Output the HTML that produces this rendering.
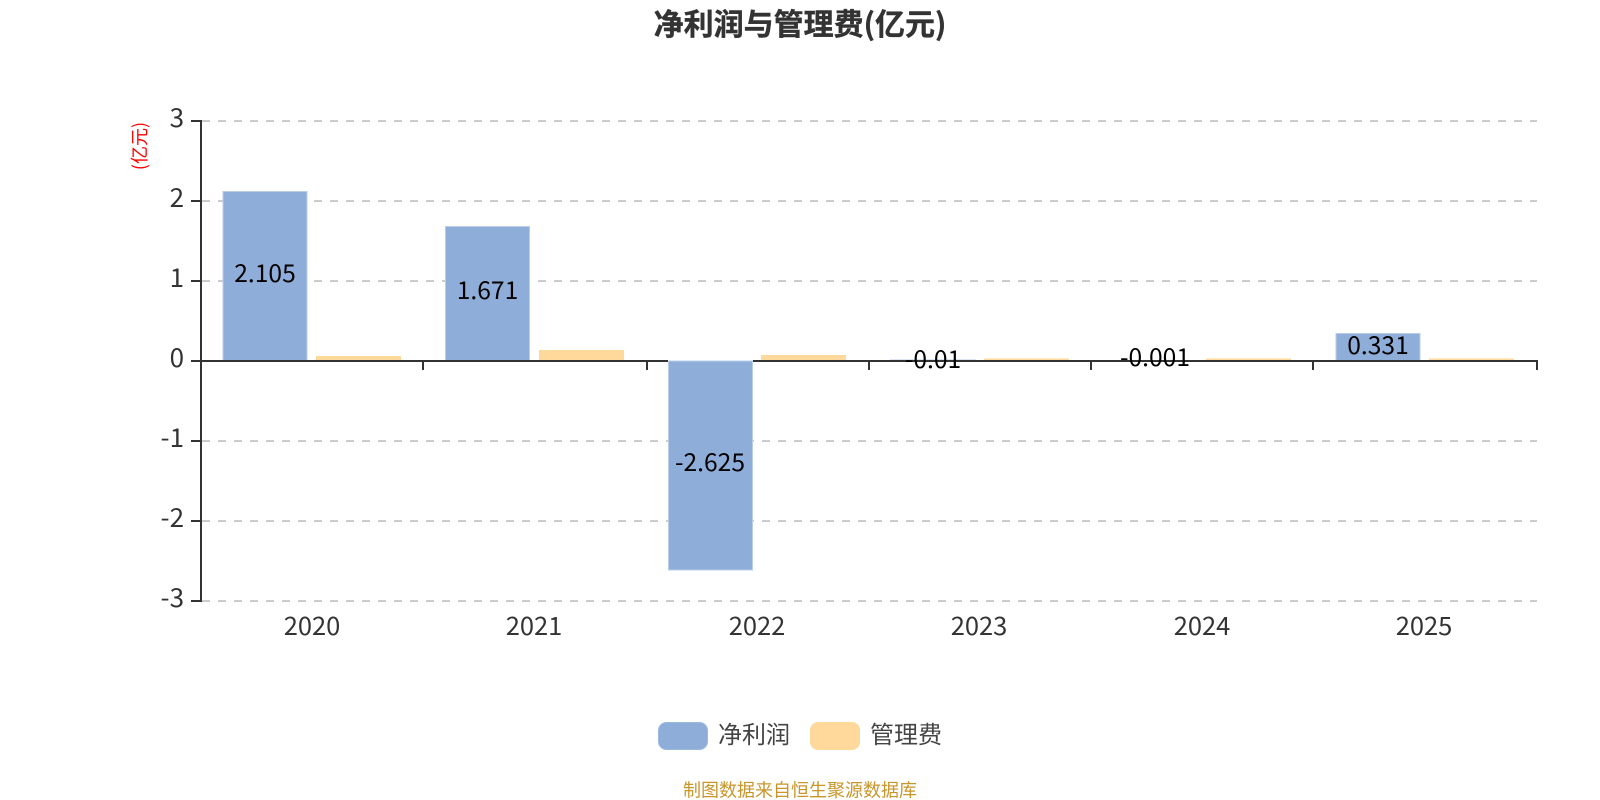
<!DOCTYPE html>
<html><head><meta charset="utf-8"><style>
html,body{margin:0;padding:0;background:#fff}
svg{display:block}
text{font-family:"Liberation Sans","Noto Sans CJK SC",sans-serif}
.n{font-family:"Noto Sans CJK SC",sans-serif}
</style></head><body>
<svg width="1600" height="800" viewBox="0 0 1600 800" xmlns="http://www.w3.org/2000/svg">
<rect width="1600" height="800" fill="#fff"/>
<text x="800" y="35" text-anchor="middle" font-size="30" font-weight="bold" fill="#333" stroke="#333" stroke-width="0.4" class="n">净利润与管理费(亿元)</text>
<g stroke="#ccc" stroke-width="2" stroke-dasharray="8 8">
<line x1="202" y1="121" x2="1537" y2="121"/>
<line x1="202" y1="201" x2="1537" y2="201"/>
<line x1="202" y1="281" x2="1537" y2="281"/>
<line x1="202" y1="441" x2="1537" y2="441"/>
<line x1="202" y1="521" x2="1537" y2="521"/>
<line x1="202" y1="601" x2="1537" y2="601"/>
</g>
<g fill="#8eadd9" stroke="#b9cde9" stroke-width="1">
<rect x="223" y="191.5" width="84" height="169"/>
<rect x="445.5" y="226.5" width="84" height="134"/>
<rect x="668.5" y="361" width="84" height="209"/>
<rect x="890.5" y="360" width="85" height="1.5"/>
<rect x="1336" y="333.5" width="84" height="27"/>
</g>
<g fill="#ffd89b">
<rect x="316" y="356" width="85" height="4.5"/>
<rect x="539" y="350" width="85" height="10.5"/>
<rect x="761" y="355" width="85" height="5.5"/>
<rect x="984" y="358.500" width="85" height="2"/>
<rect x="1206" y="358.500" width="85" height="2"/>
<rect x="1429" y="358.500" width="85" height="2"/>
</g>
<g stroke="#333" stroke-width="2" fill="none">
<line x1="201" y1="120" x2="201" y2="602"/>
<line x1="191" y1="121" x2="201" y2="121"/>
<line x1="191" y1="201" x2="201" y2="201"/>
<line x1="191" y1="281" x2="201" y2="281"/>
<line x1="191" y1="361" x2="201" y2="361"/>
<line x1="191" y1="441" x2="201" y2="441"/>
<line x1="191" y1="521" x2="201" y2="521"/>
<line x1="191" y1="601" x2="201" y2="601"/>
<line x1="201" y1="361" x2="668" y2="361"/>
<line x1="753" y1="361" x2="1538" y2="361"/>
<line x1="423" y1="361" x2="423" y2="370"/>
<line x1="647" y1="361" x2="647" y2="370"/>
<line x1="869" y1="361" x2="869" y2="370"/>
<line x1="1091" y1="361" x2="1091" y2="370"/>
<line x1="1313" y1="361" x2="1313" y2="370"/>
<line x1="1537" y1="361" x2="1537" y2="370"/>
</g>
<g fill="#333" text-anchor="end" font-size="26">
<text class="n" x="184" y="127">3</text>
<text class="n" x="184" y="207">2</text>
<text class="n" x="184" y="287">1</text>
<text class="n" x="184" y="367">0</text>
<text class="n" x="184" y="447">-1</text>
<text class="n" x="184" y="527">-2</text>
<text class="n" x="184" y="607">-3</text>
</g>
<g font-size="25.500" fill="#333" text-anchor="middle">
<text class="n" x="312" y="635">2020</text>
<text class="n" x="534" y="635">2021</text>
<text class="n" x="757" y="635">2022</text>
<text class="n" x="979" y="635">2023</text>
<text class="n" x="1202" y="635">2024</text>
<text class="n" x="1424" y="635">2025</text>
</g>
<g font-size="24.600" fill="#000" text-anchor="middle">
<text class="n" x="265" y="282">2.105</text>
<text class="n" x="487.500" y="299">1.671</text>
<text class="n" x="710" y="471">-2.625</text>
<text class="n" x="933" y="368">-0.01</text>
<text class="n" x="1155" y="366">-0.001</text>
<text class="n" x="1378" y="354">0.331</text>
</g>
<text class="n" transform="translate(146,146) rotate(-90)" text-anchor="middle" font-size="18" fill="#f00">(亿元)</text>
<rect x="658.500" y="722.500" width="49" height="27" rx="8" fill="#8eadd9" stroke="#9db8de"/>
<text class="n" x="718" y="743" font-size="24" fill="#444">净利润</text>
<rect x="810" y="722" width="50" height="28" rx="8" fill="#ffd89b"/>
<text class="n" x="870" y="743" font-size="24" fill="#444">管理费</text>
<text class="n" x="800" y="796.500" text-anchor="middle" font-size="18" fill="#c8962b">制图数据来自恒生聚源数据库</text>
</svg>
</body></html>
